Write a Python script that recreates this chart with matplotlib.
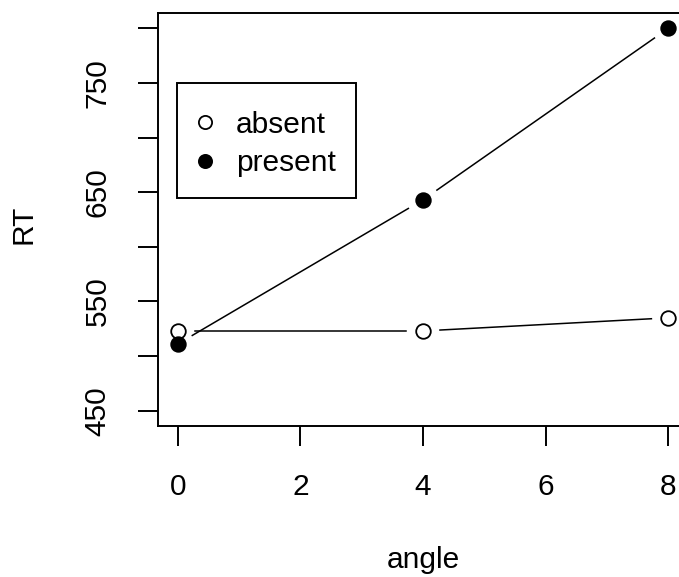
import numpy as np
import matplotlib
matplotlib.use("Agg")
import matplotlib.pyplot as plt
from matplotlib.lines import Line2D
from matplotlib.patches import Rectangle

plt.rcParams['font.family'] = ['Liberation Sans', 'DejaVu Sans']

angle = [0, 4, 8]
rt_absent = [523, 523, 535]
rt_present = [511, 643, 800]
x_ticks = [0, 2, 4, 6, 8]
y_ticks = [450, 500, 550, 600, 650, 700, 750, 800]
y_labels = ['450', '', '550', '', '650', '', '750', '']

FS = 21.5
W, H = 679, 577
fig = plt.figure(figsize=(W / 100, H / 100), dpi=100)
# plot region runs past the right edge, as in the reference
AX_L, AX_T, AX_W, AX_H = 158, 13, 530, 413
ax = fig.add_axes([AX_L / W, 1 - (AX_T + AX_H) / H, AX_W / W, AX_H / H])
ax.set_xlim(-0.32, 8.32)
ax.set_ylim(436, 814)

for s in ax.spines.values():
    s.set_linewidth(1.4)
    s.set_zorder(5)

ax.set_xticks(x_ticks)
ax.set_yticks(y_ticks)
ax.set_yticklabels(y_labels)
ax.tick_params(length=14.5, width=1.4, labelsize=FS, pad=19)
ax.tick_params(axis='y', pad=19)
plt.setp(ax.get_yticklabels(), rotation=90, va='center')


def gapped(xs, ys, gap=17):
    # R type="b": segments stop short of each point
    pts = ax.transData.transform(np.column_stack([xs, ys]))
    inv = ax.transData.inverted()
    for p, q in zip(pts[:-1], pts[1:]):
        d = q - p
        n = np.hypot(*d)
        if n <= 2 * gap:
            continue
        u = d / n
        seg = inv.transform(np.array([p + u * gap, q - u * gap]))
        ax.plot(seg[:, 0], seg[:, 1], color='black', lw=1.1, zorder=2)


gapped(angle, rt_absent)
gapped(angle, rt_present)
ax.plot(angle, rt_absent, ls='none', marker='o', ms=10.5, mfc='white',
        mec='black', mew=1.3, zorder=3, clip_on=False)
ax.plot(angle, rt_present, ls='none', marker='o', ms=10.5, mfc='black',
        mec='black', mew=1.3, zorder=3, clip_on=False)


def ax_xy(px, py):
    # pixel position in the figure -> axes fraction
    return (px - AX_L) / AX_W, (AX_T + AX_H - py) / AX_H


handles = [
    Line2D([], [], ls='none', marker='o', ms=9.5, mfc='white', mec='black', mew=1.3),
    Line2D([], [], ls='none', marker='o', ms=9.5, mfc='black', mec='black', mew=1.3),
]
leg = ax.legend(handles, ['absent', 'present'], loc='center left',
                bbox_to_anchor=ax_xy(199, 144), borderaxespad=0,
                fontsize=FS, frameon=False, handlelength=0.4,
                handletextpad=0.83, labelspacing=0.36, borderpad=0)
x0, y0 = ax_xy(177, 198)
x1, y1 = ax_xy(356, 83)
ax.add_patch(Rectangle((x0, y0), x1 - x0, y1 - y0, transform=ax.transAxes,
                       fill=False, ec='black', lw=1.4, zorder=4))

fig.text(423 / W, 1 - 568 / H, 'angle', ha='center', va='baseline', fontsize=FS)
fig.text(24 / W, 1 - 224 / H, 'RT', ha='center', va='center', rotation=90, fontsize=FS)

fig.savefig('out.png', dpi=100)
